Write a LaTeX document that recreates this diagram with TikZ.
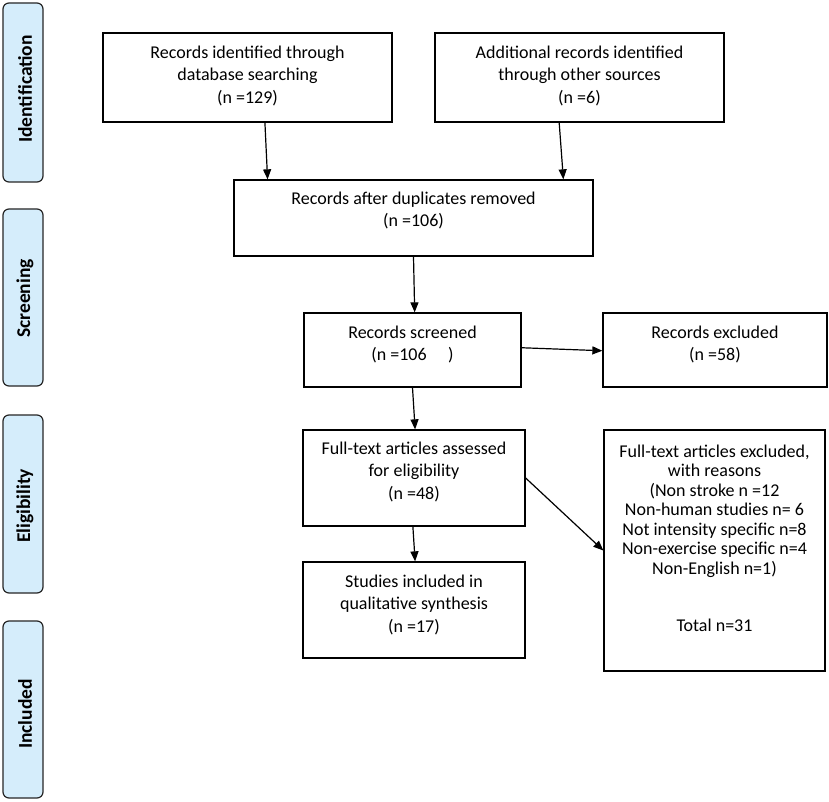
\documentclass[tikz,border=0pt]{standalone}
\usepackage{fontspec}
\setmainfont{Carlito}
\usetikzlibrary{arrows.meta,calc}
\definecolor{phaseblue}{RGB}{213,237,251}
\begin{document}
\begin{tikzpicture}[x=1pt,y=-1pt,
  box/.style={draw=black,line width=1.3pt,inner sep=0pt},
  txt/.style={anchor=north,align=center,font=\fontsize{18}{22.5}\selectfont,inner sep=0pt},
  txtb/.style={anchor=north,align=center,font=\fontsize{18}{19.5}\selectfont,inner sep=0pt},
  phase/.style={draw=black!85,line width=1.2pt,fill=phaseblue,rounded corners=6pt,inner sep=0pt},
  plabel/.style={rotate=90,font=\fontsize{19.5}{22}\selectfont\bfseries,inner sep=0pt},
  arr/.style={line width=1.2pt,-{Triangle[length=10pt,width=8pt]}}]
\useasboundingbox (0,0) rectangle (829,802);
\fill[white] (0,0) rectangle (829,802);

% phase bars
\node[phase,minimum width=40pt,minimum height=179pt] (p1) at (23,92.5) {};
\node[phase,minimum width=40pt,minimum height=177pt] (p2) at (23,297.5) {};
\node[phase,minimum width=40pt,minimum height=178pt] (p3) at (23,504) {};
\node[phase,minimum width=40pt,minimum height=177pt] (p4) at (23,709.5) {};
\node[plabel] (l1) at (25,89) {Identification};
\node[plabel] (l2) at (25,298.5) {Screening};
\node[plabel] (l3) at (25,506) {Eligibility};
\node[plabel] (l4) at (25,714) {Included};

% boxes
\node[box,minimum width=289pt,minimum height=89pt] (b1) at (247.5,77.5) {};
\node[box,minimum width=289pt,minimum height=89pt] (b2) at (579.5,77.5) {};
\node[box,minimum width=359pt,minimum height=76pt] (b3) at (413.5,218) {};
\node[box,minimum width=217pt,minimum height=74pt] (b4) at (412.5,350) {};
\node[box,minimum width=224pt,minimum height=74pt] (b5) at (715,350) {};
\node[box,minimum width=222pt,minimum height=96pt] (b6) at (414,478) {};
\node[box,minimum width=221pt,minimum height=241pt] (b7) at (714.5,550.5) {};
\node[box,minimum width=222pt,minimum height=96pt] (b8) at (414,610) {};

% texts
\node[txt] (t1) at ($(b1.north)+(0,13)$) {Records identified through\\database searching\\(n =129)};
\node[txt] (t2) at ($(b2.north)+(0,13)$) {Additional records identified\\through other sources\\(n =6)};
\node[txt] (t3) at ($(b3.north)+(0,12)$) {Records after duplicates removed\\(n =106)};
\node[txt] (t4) at ($(b4.north)+(0,13)$) {Records screened\\(n =106\hspace{1.2em})};
\node[txt] (t5) at ($(b5.north)+(0,13)$) {Records excluded\\(n =58)};
\node[txt] (t6) at ($(b6.north)+(0,12)$) {Full-text articles assessed\\for eligibility\\(n =48)};
\node[txtb] (t7) at ($(b7.north)+(0,15)$) {Full-text articles excluded,\\with reasons\\(Non stroke n =12\\Non-human studies n= 6\\Not intensity specific n=8\\Non-exercise specific n=4\\Non-English n=1)\\[38pt]Total n=31};
\node[txt] (t8) at ($(b8.north)+(0,13)$) {Studies included in\\qualitative synthesis\\(n =17)};

% arrows
\draw[arr] ($(b1.south west)!0.56!(b1.south east)$) -- ($(b3.north west)!0.095!(b3.north east)$);
\draw[arr] ($(b2.south west)!0.43!(b2.south east)$) -- ($(b3.north west)!0.916!(b3.north east)$);
\draw[arr] (b3.south) -- ($(b4.north west)!0.51!(b4.north east)$);
\draw[arr] ($(b4.north east)!0.47!(b4.south east)$) -- ($(b5.north west)!0.51!(b5.south west)$);
\draw[arr] (b4.south) -- ($(b6.north west)!0.505!(b6.north east)$);
\draw[arr] ($(b6.south west)!0.495!(b6.south east)$) -- ($(b8.north west)!0.505!(b8.north east)$);
\draw[arr] (b6.east) -- (b7.west);
\end{tikzpicture}
\end{document}
